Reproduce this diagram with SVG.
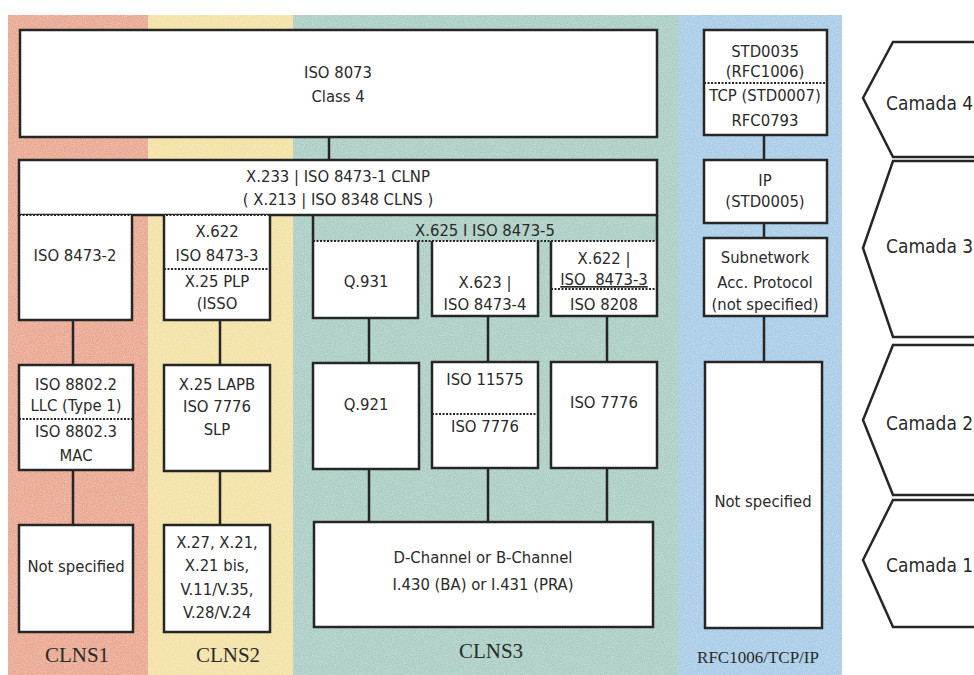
<svg xmlns="http://www.w3.org/2000/svg" width="974" height="675" viewBox="0 0 974 675">
<defs>
<filter id="grain" x="0" y="0" width="100%" height="100%">
<feTurbulence type="fractalNoise" baseFrequency="0.9" numOctaves="2" seed="3" result="n"/>
<feColorMatrix in="n" type="matrix" values="0 0 0 0 1  0 0 0 0 1  0 0 0 0 1  0 0 0 0.55 -0.18" result="w"/>
<feComposite in="w" in2="SourceGraphic" operator="in" result="wc"/>
<feMerge><feMergeNode in="SourceGraphic"/><feMergeNode in="wc"/></feMerge>
</filter>
<style>
.box{fill:#fff;stroke:#262626;stroke-width:2.5}
.dot{fill:none;stroke:#262626;stroke-width:2;stroke-dasharray:2 1.5}
.con{fill:none;stroke:#262626;stroke-width:2.5}
.hex{fill:#fff;stroke:#262626;stroke-width:2.5;stroke-linejoin:miter}
.t{font-family:"DejaVu Sans Condensed","Liberation Sans",Arial,sans-serif;font-size:16.5px;fill:#2a2a2a;text-anchor:middle}
.cam{font-family:"DejaVu Sans Condensed","Liberation Sans",Arial,sans-serif;font-size:19px;fill:#2a2a2a}
.lab{font-family:"Liberation Serif","Times New Roman",serif;font-size:21px;fill:#2a2a2a;text-anchor:middle}
</style>
</defs>
<rect width="974" height="675" fill="#fff"/>
<g id="backgrounds" filter="url(#grain)">
<rect x="8" y="15" width="140" height="660" fill="#e9a58c"/>
<rect x="148" y="15" width="145" height="660" fill="#f3e1a2"/>
<rect x="293" y="15" width="385" height="660" fill="#a9cdc3"/>
<rect x="678" y="15" width="164" height="660" fill="#a5cbe6"/>
</g>
<g id="connectors">
<line class="con" x1="329" y1="137" x2="329" y2="160"/>
<line class="con" x1="764" y1="135" x2="764" y2="160"/>
<line class="con" x1="764" y1="223" x2="764" y2="238"/>
<line class="con" x1="764" y1="316" x2="764" y2="362"/>
<line class="con" x1="73" y1="320" x2="73" y2="365"/>
<line class="con" x1="73" y1="470" x2="73" y2="525"/>
<line class="con" x1="220" y1="320" x2="220" y2="365"/>
<line class="con" x1="220" y1="471" x2="220" y2="525"/>
<line class="con" x1="369" y1="318" x2="369" y2="363"/>
<line class="con" x1="488" y1="316" x2="488" y2="362"/>
<line class="con" x1="607" y1="316" x2="607" y2="362"/>
<line class="con" x1="369" y1="469" x2="369" y2="522"/>
<line class="con" x1="488" y1="468" x2="488" y2="522"/>
<line class="con" x1="607" y1="468" x2="607" y2="522"/>
</g>
<g id="iso8073">
<rect class="box" x="20" y="30" width="637" height="107"/>
<text class="t" x="338" y="78">ISO 8073</text>
<text class="t" x="338" y="102">Class 4</text>
</g>
<g id="clnp">
<rect class="box" x="19" y="160" width="638" height="55"/>
<text class="t" x="338" y="182">X.233 | ISO 8473-1 CLNP</text>
<text class="t" x="338" y="205">( X.213 | ISO 8348 CLNS )</text>
</g>
<g id="iso8473-2">
<path class="box" d="M19 215 V320 H132 V215"/>
<text class="t" x="75" y="261">ISO 8473-2</text>
</g>
<g id="x622-plp">
<path class="box" d="M164 215 V320 H270 V215"/>
<line class="dot" x1="164" y1="269" x2="270" y2="269"/>
<text class="t" x="217" y="237">X.622</text>
<text class="t" x="217" y="261">ISO 8473-3</text>
<text class="t" x="217" y="287">X.25 PLP</text>
<text class="t" x="217" y="309">(ISSO</text>
</g>
<g id="x625">
<path class="box" d="M313 215 V241 M657 215 V241"/>
<text class="t" x="485" y="236">X.625 I ISO 8473-5</text>
</g>
<g id="q931">
<path class="box" d="M313 241 V318 H418 V241"/>
<text class="t" x="366" y="287">Q.931</text>
</g>
<g id="x623">
<path class="box" d="M432 241 V316 H538 V241"/>
<text class="t" x="485" y="288">X.623 |</text>
<text class="t" x="485" y="310">ISO 8473-4</text>
</g>
<g id="x622-8208">
<path class="box" d="M551 241 V316 H657 V241"/>
<line class="dot" x1="551" y1="289" x2="657" y2="289"/>
<text class="t" x="604" y="264">X.622 |</text>
<text class="t" x="604" y="285" text-decoration="underline" xml:space="preserve">ISO  8473-3</text>
<text class="t" x="604" y="310">ISO 8208</text>
</g>
<line class="dot" x1="19" y1="215" x2="657" y2="215"/>
<line class="dot" x1="313" y1="241" x2="657" y2="241"/>
<g id="iso8802">
<rect class="box" x="19" y="365" width="114" height="105"/>
<line class="dot" x1="19" y1="419" x2="133" y2="419"/>
<text class="t" x="76" y="390">ISO 8802.2</text>
<text class="t" x="76" y="411">LLC (Type 1)</text>
<text class="t" x="76" y="437">ISO 8802.3</text>
<text class="t" x="76" y="461">MAC</text>
</g>
<g id="notspec1">
<rect class="box" x="19" y="525" width="114" height="107"/>
<text class="t" x="76" y="572">Not specified</text>
</g>
<g id="lapb">
<rect class="box" x="164" y="365" width="106" height="106"/>
<text class="t" x="217" y="390">X.25 LAPB</text>
<text class="t" x="217" y="412">ISO 7776</text>
<text class="t" x="217" y="435">SLP</text>
</g>
<g id="x27">
<rect class="box" x="164" y="525" width="106" height="107"/>
<text class="t" x="217" y="548">X.27, X.21,</text>
<text class="t" x="217" y="571">X.21 bis,</text>
<text class="t" x="217" y="595">V.11/V.35,</text>
<text class="t" x="217" y="618">V.28/V.24</text>
</g>
<g id="q921">
<rect class="box" x="313" y="363" width="106" height="106"/>
<text class="t" x="366" y="410">Q.921</text>
</g>
<g id="iso11575">
<rect class="box" x="432" y="362" width="106" height="106"/>
<line class="dot" x1="432" y1="414" x2="538" y2="414"/>
<text class="t" x="485" y="385">ISO 11575</text>
<text class="t" x="485" y="432">ISO 7776</text>
</g>
<g id="iso7776">
<rect class="box" x="551" y="362" width="106" height="106"/>
<text class="t" x="604" y="408">ISO 7776</text>
</g>
<g id="dchannel">
<rect class="box" x="314" y="522" width="339" height="105"/>
<text class="t" x="483" y="563">D-Channel or B-Channel</text>
<text class="t" x="483" y="590">I.430 (BA) or I.431 (PRA)</text>
</g>
<g id="std0035">
<rect class="box" x="704" y="30" width="123" height="105"/>
<line class="dot" x1="704" y1="83" x2="827" y2="83"/>
<text class="t" x="765" y="57">STD0035</text>
<text class="t" x="765" y="77">(RFC1006)</text>
<text class="t" x="765" y="101">TCP (STD0007)</text>
<text class="t" x="765" y="126">RFC0793</text>
</g>
<g id="ip">
<rect class="box" x="704" y="160" width="123" height="63"/>
<text class="t" x="765" y="186">IP</text>
<text class="t" x="765" y="207">(STD0005)</text>
</g>
<g id="subnetwork">
<rect class="box" x="704" y="238" width="123" height="78"/>
<text class="t" x="765" y="263">Subnetwork</text>
<text class="t" x="765" y="288">Acc. Protocol</text>
<text class="t" x="765" y="310">(not specified)</text>
</g>
<g id="notspec2">
<rect class="box" x="705" y="362" width="117" height="266"/>
<text class="t" x="763" y="507">Not specified</text>
</g>
<g id="labels">
<text class="lab" x="77" y="662">CLNS1</text>
<text class="lab" x="228" y="662">CLNS2</text>
<text class="lab" x="491" y="658">CLNS3</text>
<text class="lab" x="758" y="663" style="font-size:17px">RFC1006/TCP/IP</text>
</g>
<g id="camada4">
<path class="hex" d="M980 42 H893 L863 98 L893 157 H980"/>
<text class="cam" x="886" y="110">Camada 4</text>
</g>
<g id="camada3">
<path class="hex" d="M980 161 H893 L863 248 L893 337 H980"/>
<text class="cam" x="886" y="253">Camada 3</text>
</g>
<g id="camada2">
<path class="hex" d="M980 345 H893 L863 420 L893 495 H980"/>
<text class="cam" x="886" y="430">Camada 2</text>
</g>
<g id="camada1">
<path class="hex" d="M980 500 H893 L863 560 L893 627 H980"/>
<text class="cam" x="886" y="572">Camada 1</text>
</g>
</svg>
